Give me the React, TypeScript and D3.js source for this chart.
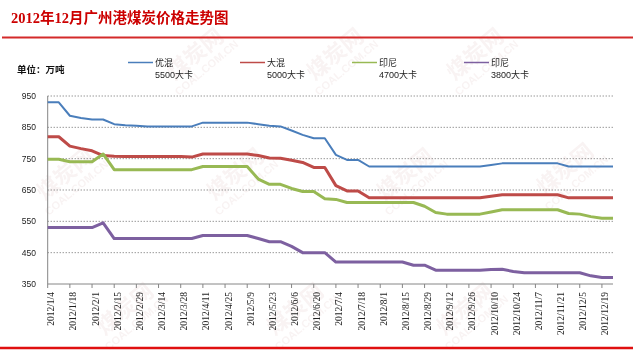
import React from 'react';
import * as d3 from 'd3';

// weekly dates, 2012
const dates = [
  '2012/1/4', '2012/1/11', '2012/1/18', '2012/1/25', '2012/2/1', '2012/2/8', '2012/2/15', '2012/2/22',
  '2012/2/29', '2012/3/7', '2012/3/14', '2012/3/21', '2012/3/28', '2012/4/4', '2012/4/11', '2012/4/18',
  '2012/4/25', '2012/5/2', '2012/5/9', '2012/5/16', '2012/5/23', '2012/5/30', '2012/6/6', '2012/6/13',
  '2012/6/20', '2012/6/27', '2012/7/4', '2012/7/11', '2012/7/18', '2012/7/25', '2012/8/1', '2012/8/8',
  '2012/8/15', '2012/8/22', '2012/8/29', '2012/9/5', '2012/9/12', '2012/9/19', '2012/9/26', '2012/10/3',
  '2012/10/10', '2012/10/17', '2012/10/24', '2012/10/31', '2012/11/7', '2012/11/14', '2012/11/21', '2012/11/28',
  '2012/12/5', '2012/12/12', '2012/12/19', '2012/12/26',
];

// 优混 5500大卡
const youhun5500 = [
  930, 930, 887, 880, 875, 875, 860, 857, 855, 853, 853, 853, 853, 853, 865, 865,
  865, 865, 865, 860, 855, 853, 840, 826, 815, 815, 762, 746, 746, 725, 725, 725,
  725, 725, 725, 725, 725, 725, 725, 725, 730, 735, 735, 735, 735, 735, 735, 725,
  725, 725, 725, 725,
];
// 大混 5000大卡
const dahun5000 = [
  820, 820, 790, 782, 775, 760, 758, 757, 757, 757, 757, 757, 757, 755, 765, 765,
  765, 765, 765, 760, 752, 751, 745, 738, 722, 722, 664, 647, 647, 625, 625, 625,
  625, 625, 625, 625, 625, 625, 625, 625, 630, 635, 635, 635, 635, 635, 635, 625,
  625, 625, 625, 625,
];
// 印尼 4700大卡
const yinni4700 = [
  748, 748, 740, 740, 740, 765, 715, 715, 715, 715, 715, 715, 715, 715, 725, 725,
  725, 725, 725, 685, 668, 668, 655, 645, 645, 622, 620, 610, 610, 610, 610, 610,
  610, 610, 598, 578, 573, 573, 573, 573, 580, 587, 587, 587, 587, 587, 587, 575,
  573, 565, 560, 560,
];
// 印尼 3800大卡
const yinni3800 = [
  530, 530, 530, 530, 530, 545, 495, 495, 495, 495, 495, 495, 495, 495, 505, 505,
  505, 505, 505, 495, 485, 485, 470, 450, 450, 450, 420, 420, 420, 420, 420, 420,
  420, 410, 410, 394, 394, 394, 394, 394, 396, 397, 390, 386, 386, 386, 386, 386,
  386, 376, 371, 371,
];

const yTicks = [950, 850, 750, 650, 550, 450, 350];

const seriesNames = ['优混', '大混', '印尼', '印尼'];
const seriesSubs = ['5500大卡', '5000大卡', '4700大卡', '3800大卡'];
const seriesValues = [youhun5500, dahun5000, yinni4700, yinni3800];
const colors = ['#4a7ebb', '#be4b48', '#98b954', '#7d60a0'];
const widths = [2, 3, 3, 3];

const W = 633;
const H = 362;

export default function App() {
  const x = d3.scalePoint<string>().domain(dates).range([47.7, 613]);
  const y = d3.scaleLinear().domain([350, 950]).range([284, 96]);

  const line = d3.line<number>()
    .x((d, i) => x(dates[i]) as number)
    .y(d => y(d));

  const tickDates = dates.filter((d, i) => i % 2 === 0);

  // faint site watermark, kept inside the picture
  const marks = [
    [200, 60], [340, 60], [480, 60],
    [70, 180], [240, 180], [410, 180], [570, 175],
    [130, 315], [300, 315], [470, 315],
  ];

  return (
    <svg width={W} height={H} style={{ position: 'absolute', left: 0, top: 0, background: '#fff' }}>
      <g opacity={0.07}>
        {marks.map(([mx, my], i) => (
          <g key={i} transform={`translate(${mx},${my}) rotate(-40)`}>
            <text textAnchor="middle" fontFamily="'Noto Sans CJK SC'" fontWeight={700} fontSize={22} fill="#a05050">煤炭网</text>
            <text y={14} textAnchor="middle" fontFamily="'Liberation Sans'" fontWeight={700} fontSize={11} fill="#a05050">COAL.COM.CN</text>
          </g>
        ))}
      </g>

      <text x={11} y={23} fontFamily="'Liberation Serif', 'Noto Sans CJK SC'" fontWeight={700}
        fontSize={14.5} fill="#cc0000">2012年12月广州港煤炭价格走势图</text>
      <line x1={2} x2={W} y1={37.5} y2={37.5} stroke="#d42a2a" strokeWidth={2} />
      <line x1={0} x2={W} y1={348} y2={348} stroke="#e01010" strokeWidth={2.5} />

      <text x={17} y={73} fontFamily="'Noto Sans CJK SC'" fontWeight={700} fontSize={9.5} fill="#111">单位：万吨</text>

      {seriesNames.map((n, i) => {
        const lx = 128 + i * 112;
        return (
          <g key={i}>
            <line x1={lx} x2={lx + 25} y1={62.5} y2={62.5} stroke={colors[i]} strokeWidth={1.5} />
            <text x={lx + 27} y={65.5} fontFamily="'Noto Sans CJK SC'" fontSize={9} fill="#222">{n}</text>
            <text x={lx + 27} y={78} fontFamily="'Liberation Sans', 'Noto Sans CJK SC'" fontSize={9} fill="#222">{seriesSubs[i]}</text>
          </g>
        );
      })}

      {yTicks.filter(t => t !== 350).map(t => (
        <line key={t} x1={47.7} x2={613} y1={y(t)} y2={y(t)} stroke="#6a6a6a" strokeWidth={1} strokeDasharray="1 2" />
      ))}
      {yTicks.map(t => (
        <text key={t} x={36} y={y(t) + 3} textAnchor="end" fontFamily="'Liberation Sans'" fontSize={8.5} fill="#222">{t}</text>
      ))}

      <line x1={47.7} x2={47.7} y1={96} y2={284} stroke="#868686" strokeWidth={1} />
      <line x1={47.7} x2={613} y1={284} y2={284} stroke="#868686" strokeWidth={1} />
      {tickDates.map(d => (
        <line key={d} x1={x(d)} x2={x(d)} y1={284} y2={288} stroke="#868686" strokeWidth={1} />
      ))}
      {tickDates.map(d => (
        <text key={d} transform={`translate(${(x(d) as number) + 6.5},292) rotate(-90)`} textAnchor="end"
          fontFamily="'Liberation Serif'" fontSize={9.5} fill="#222">{d}</text>
      ))}

      {seriesValues.map((vals, i) => (
        <path key={i} d={line(vals) || ''} fill="none" stroke={colors[i]} strokeWidth={widths[i]} strokeLinejoin="round" />
      ))}
    </svg>
  );
}
